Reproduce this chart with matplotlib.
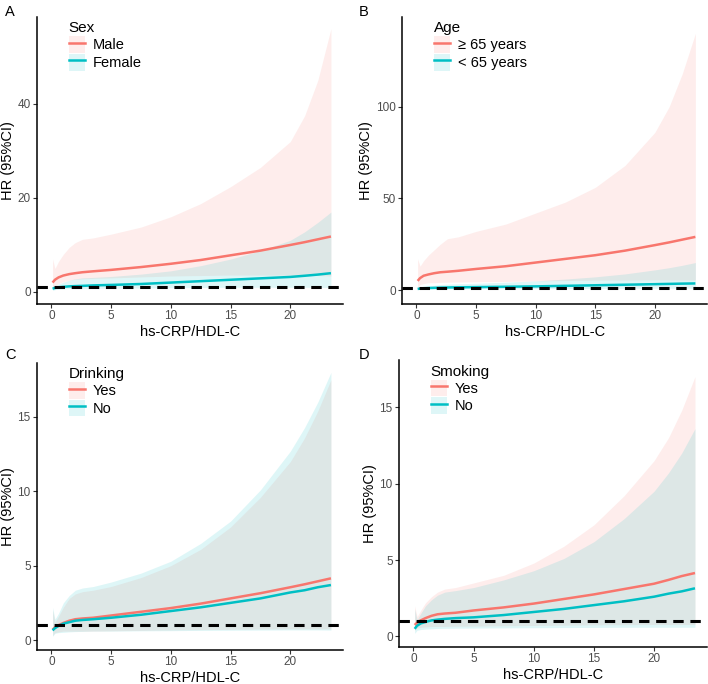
import matplotlib
matplotlib.use("Agg")
import matplotlib.pyplot as plt
from matplotlib.lines import Line2D
from matplotlib.patches import Patch

plt.rcParams['font.family'] = ['Liberation Sans', 'DejaVu Sans']

RED = '#F8766D'
TEAL = '#00BFC4'

# x grid
x = [0.1, 0.3, 0.6, 1.0, 1.5, 2.0, 2.6, 3.5, 5, 7.5, 10, 12.5, 15, 17.5, 20, 21.2, 22.3, 23.4]

# A - Sex
male_hr = [2.0, 2.6, 3.1, 3.5, 3.8, 4.0, 4.2, 4.4, 4.7, 5.3, 6.0, 6.8, 7.8, 8.8, 10.0, 10.6, 11.2, 11.8]
male_up = [7.0, 5.0, 6.5, 8.0, 9.5, 10.5, 11.2, 11.5, 12.3, 13.8, 16.0, 18.8, 22.4, 26.5, 32.0, 37.5, 45.0, 56.0]
male_lo = [0.6, 1.2, 1.8, 2.2, 2.5, 2.7, 2.8, 2.9, 3.0, 3.2, 3.4, 3.5, 3.6, 3.6, 3.6, 3.55, 3.5, 3.4]
female_hr = [0.7, 0.85, 1.0, 1.1, 1.2, 1.25, 1.3, 1.4, 1.5, 1.7, 2.0, 2.3, 2.6, 2.9, 3.2, 3.45, 3.7, 4.0]
female_up = [1.5, 1.3, 1.7, 2.1, 2.5, 2.8, 3.0, 3.1, 3.3, 3.8, 4.5, 5.6, 7.0, 8.8, 11.0, 12.8, 14.8, 17.0]
female_lo = [0.3, 0.5, 0.6, 0.65, 0.7, 0.7, 0.7, 0.75, 0.8, 0.85, 0.9, 0.95, 1.0, 1.0, 1.0, 1.0, 0.98, 0.95]

# B - Age
old_hr = [5.0, 6.5, 7.8, 8.5, 9.2, 9.7, 10.0, 10.5, 11.5, 13.0, 15.0, 17.0, 19.0, 21.5, 24.5, 26.0, 27.5, 29.0]
old_up = [17, 13, 16, 19, 22, 25, 28, 29, 32, 36, 42, 48, 56, 68, 86, 100, 118, 140]
old_lo = [1.5, 3, 3.5, 4, 4, 4.2, 4.3, 4.4, 4.5, 4.7, 5, 5.2, 5.4, 5.5, 5.6, 5.6, 5.55, 5.5]
young_hr = [0.6, 0.8, 1.0, 1.1, 1.2, 1.3, 1.4, 1.5, 1.6, 1.8, 2.0, 2.3, 2.6, 2.9, 3.2, 3.35, 3.5, 3.6]
young_up = [1.5, 1.4, 1.8, 2.2, 2.6, 3.0, 3.2, 3.4, 3.7, 4.3, 5.0, 6.0, 7.2, 8.8, 11.0, 12.2, 13.5, 15.0]
young_lo = [0.3, 0.4, 0.5, 0.55, 0.6, 0.6, 0.65, 0.7, 0.7, 0.75, 0.8, 0.85, 0.9, 0.95, 1.0, 1.0, 1.0, 1.0]

# C - Drinking
dyes_hr = [0.7, 0.85, 1.0, 1.15, 1.3, 1.4, 1.45, 1.5, 1.65, 1.9, 2.15, 2.45, 2.8, 3.15, 3.55, 3.75, 3.95, 4.15]
dyes_up = [2.0, 1.2, 1.6, 2.2, 2.8, 3.1, 3.25, 3.35, 3.6, 4.2, 5.0, 6.1, 7.6, 9.6, 12.0, 13.6, 15.4, 17.5]
dyes_lo = [0.3, 0.5, 0.55, 0.6, 0.6, 0.6, 0.6, 0.6, 0.62, 0.65, 0.68, 0.7, 0.72, 0.74, 0.75, 0.75, 0.75, 0.75]
dno_hr = [0.65, 0.8, 0.95, 1.1, 1.2, 1.3, 1.35, 1.4, 1.5, 1.7, 1.95, 2.2, 2.5, 2.8, 3.2, 3.35, 3.55, 3.7]
dno_up = [2.2, 1.4, 1.8, 2.5, 3.0, 3.35, 3.5, 3.6, 3.9, 4.5, 5.3, 6.5, 8.0, 10.1, 12.7, 14.3, 16.0, 18.0]
dno_lo = [0.25, 0.45, 0.5, 0.52, 0.55, 0.57, 0.58, 0.6, 0.6, 0.62, 0.63, 0.65, 0.66, 0.67, 0.68, 0.68, 0.68, 0.67]

# D - Smoking
syes_hr = [0.75, 0.9, 1.05, 1.2, 1.35, 1.45, 1.5, 1.55, 1.7, 1.9, 2.15, 2.45, 2.75, 3.1, 3.45, 3.7, 3.95, 4.15]
syes_up = [2.0, 1.3, 1.7, 2.2, 2.6, 2.9, 3.1, 3.2, 3.5, 4.0, 4.8, 5.9, 7.3, 9.2, 11.5, 13.0, 14.8, 17.0]
syes_lo = [0.4, 0.55, 0.6, 0.62, 0.65, 0.65, 0.66, 0.67, 0.68, 0.7, 0.72, 0.74, 0.76, 0.77, 0.78, 0.78, 0.78, 0.78]
sno_hr = [0.5, 0.7, 0.85, 0.95, 1.05, 1.1, 1.15, 1.2, 1.25, 1.4, 1.6, 1.8, 2.05, 2.3, 2.6, 2.8, 2.95, 3.15]
sno_up = [1.8, 1.1, 1.5, 2.0, 2.4, 2.7, 2.9, 3.0, 3.2, 3.7, 4.3, 5.1, 6.2, 7.7, 9.5, 10.7, 12.0, 13.6]
sno_lo = [0.2, 0.4, 0.45, 0.48, 0.5, 0.52, 0.53, 0.54, 0.55, 0.56, 0.57, 0.58, 0.59, 0.6, 0.6, 0.6, 0.6, 0.6]

panels = [
    ('A', 'Sex', ['Male', 'Female'], [(male_hr, male_lo, male_up), (female_hr, female_lo, female_up)],
     [0.0523, 0.5556, 0.432, 0.4196], (-2.55, 58.5), [0, 20, 40], (0.007, 0.993)),
    ('B', 'Age', ['\u2265 65 years', '< 65 years'], [(old_hr, old_lo, old_up), (young_hr, young_lo, young_up)],
     [0.568, 0.5556, 0.431, 0.4196], (-7.6, 149), [0, 50, 100], (0.507, 0.993)),
    ('C', 'Drinking', ['Yes', 'No'], [(dyes_hr, dyes_lo, dyes_up), (dno_hr, dno_lo, dno_up)],
     [0.0523, 0.0497, 0.432, 0.42], (-0.67, 18.65), [0, 5, 10, 15], (0.007, 0.491)),
    ('D', 'Smoking', ['Yes', 'No'], [(syes_hr, syes_lo, syes_up), (sno_hr, sno_lo, sno_up)],
     [0.5636, 0.0541, 0.435, 0.419], (-0.69, 18.06), [0, 5, 10, 15], (0.507, 0.491)),
]

fig = plt.figure(figsize=(7.08, 6.84), dpi=100)

for letter, title, labels, series, pos, ylim, yticks, lpos in panels:
    ax = fig.add_axes(pos)
    colors = [RED, TEAL]
    for (hr, lo, up), c in zip(series, colors):
        ax.fill_between(x, lo, up, color=c, alpha=0.13, linewidth=0)
    for (hr, lo, up), c in zip(series, colors):
        ax.plot(x, hr, color=c, lw=1.8, solid_capstyle='butt')
    ax.axhline(1, color='black', lw=2.2, ls=(0, (3.4, 2.2)))
    ax.set_xlim(-1.2, 24.4)
    ax.set_ylim(*ylim)
    ax.set_xticks([0, 5, 10, 15, 20])
    ax.set_yticks(yticks)
    for s in ['top', 'right']:
        ax.spines[s].set_visible(False)
    for s in ['left', 'bottom']:
        ax.spines[s].set_linewidth(1.1)
    ax.tick_params(labelsize=8.5, color='#333333', labelcolor='#4D4D4D', length=3, width=0.8, pad=1.5)
    ax.set_xlabel('hs-CRP/HDL-C', fontsize=10.5, labelpad=2)
    ax.set_ylabel('HR (95%CI)', fontsize=10.5, labelpad=2)
    handles = [(Patch(facecolor=c, alpha=0.13, edgecolor='none'), Line2D([], [], color=c, lw=1.8)) for c in colors]
    ax.legend(handles, labels, title=title, loc='upper left', bbox_to_anchor=(0.06, 1.03),
              frameon=False, fontsize=10.5, title_fontsize=11, handlelength=1.1,
              handleheight=1.4, handletextpad=0.55, labelspacing=0.05, alignment='left')
    fig.text(lpos[0], lpos[1], letter, fontsize=10.5, va='top')

fig.savefig('out.png', dpi=100)
